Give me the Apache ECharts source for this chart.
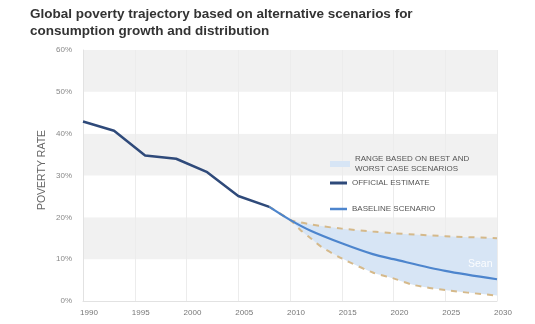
<!DOCTYPE html>
<html>
<head>
<meta charset="utf-8">
<script src="https://cdn.jsdelivr.net/npm/echarts@6/dist/echarts.min.js"></script>
<style>
html,body{margin:0;padding:0;background:#fff;}
#chart{width:535px;height:324px;}
</style>
</head>
<body>
<div id="chart"></div>
<script>
// ---- data ----
var titleLines = ['Global poverty trajectory based on alternative scenarios for', 'consumption growth and distribution'];
var yTickLabels = ['0%', '10%', '20%', '30%', '40%', '50%', '60%'];
var officialYears = [1990, 1993, 1996, 1999, 2002, 2005, 2008];
var officialValues = [42.9, 40.7, 34.8, 34.0, 30.8, 25.1, 22.5];
var baselineYears = [2008, 2010, 2012, 2015, 2018, 2020, 2025, 2030];
var baselineValues = [22.5, 19.4, 16.8, 13.8, 11.2, 10.0, 7.2, 5.2];
var rangeYears = [2008, 2010, 2011, 2012, 2013, 2015, 2018, 2020, 2022, 2025, 2030];
var upperValues = [22.5, 19.4, 18.8, 18.3, 17.9, 17.3, 16.6, 16.2, 15.9, 15.5, 15.0];
var lowerValues = [22.5, 19.4, 17.0, 15.0, 13.0, 10.2, 6.8, 5.4, 3.8, 2.6, 1.3];
var legendNames = ['RANGE BASED ON BEST AND\nWORST CASE SCENARIOS', 'OFFICIAL ESTIMATE', 'BASELINE SCENARIO'];

function pairs(xs, ys) { return xs.map(function (x, i) { return [x, ys[i]]; }); }
// value first, year second (encode below) so that stacking works on the y value
function revPairs(xs, ys) { return xs.map(function (x, i) { return [ys[i], x]; }); }
var bandValues = upperValues.map(function (u, i) { return +(u - lowerValues[i]).toFixed(2); });

var C_OFF = '#2f4a7a', C_BASE = '#4d85cd', C_RANGE = '#d7e5f5', C_DASH = '#d5b98a';
var FONT = '"Liberation Sans", Arial, sans-serif';

var chart = echarts.init(document.getElementById('chart'), null, { renderer: 'canvas' });
chart.setOption({
  animation: false,
  backgroundColor: '#fff',
  textStyle: { fontFamily: FONT },
  grid: { left: 83, right: 38, top: 50, bottom: 23, containLabel: false },
  graphic: [
    { type: 'text', left: 30, top: 6, style: { text: titleLines.join('\n'), font: 'bold 13.5px ' + FONT, fill: '#333', lineHeight: 17 } },
    { type: 'text', x: 42, y: 170, rotation: Math.PI / 2, style: { text: 'POVERTY RATE', font: '10.5px ' + FONT, fill: '#666', align: 'center', verticalAlign: 'middle' } },
    { type: 'text', x: 468, y: 264, z: 100, style: { text: 'Sean', font: '10.5px ' + FONT, fill: 'rgba(255,255,255,0.9)', verticalAlign: 'middle' } }
  ],
  legend: [
    { left: 325, top: 143, itemWidth: 20, itemHeight: 6, selectedMode: false,
      data: [{ name: legendNames[0], icon: 'rect', itemStyle: { color: C_RANGE } }],
      textStyle: { fontSize: 8, color: '#555', lineHeight: 10, padding: [12, 0, 0, 0], fontFamily: FONT } },
    { left: 325, top: 174, itemWidth: 17, itemHeight: 3, selectedMode: false,
      data: [{ name: legendNames[1], icon: 'rect', itemStyle: { color: C_OFF } }],
      textStyle: { fontSize: 8, color: '#555', fontFamily: FONT } },
    { left: 325, top: 200, itemWidth: 17, itemHeight: 2.5, selectedMode: false,
      data: [{ name: legendNames[2], icon: 'rect', itemStyle: { color: C_BASE } }],
      textStyle: { fontSize: 8, color: '#555', fontFamily: FONT } }
  ],
  xAxis: {
    type: 'value', min: 1990, max: 2030, interval: 5,
    axisLine: { show: true, lineStyle: { color: '#e2e2e2', width: 1 } },
    axisTick: { show: false },
    axisLabel: { color: '#777', fontSize: 8, margin: 8, padding: [0, 0, 0, 12], fontFamily: FONT,
      formatter: function (v) { return String(v); } },
    splitLine: { show: true, lineStyle: { color: '#ececec', width: 1 } }
  },
  yAxis: {
    type: 'value', min: 0, max: 60, interval: 10,
    axisLine: { show: true, lineStyle: { color: '#e2e2e2', width: 1 } },
    axisTick: { show: false },
    axisLabel: { color: '#888', fontSize: 8, margin: 11, fontFamily: FONT,
      formatter: function (v) { return yTickLabels[Math.round(v / 10)]; } },
    splitLine: { show: false },
    splitArea: { show: true, areaStyle: { color: ['#ffffff', '#f1f1f1'] } }
  },
  series: [
    { type: 'line', name: 'lowBase', stack: 'range', data: revPairs(rangeYears, lowerValues),
      encode: { x: 1, y: 0 }, smooth: 0.3,
      symbol: 'none', lineStyle: { opacity: 0 }, silent: true, z: 1 },
    { type: 'line', name: legendNames[0], stack: 'range', data: revPairs(rangeYears, bandValues),
      encode: { x: 1, y: 0 }, smooth: 0.3,
      symbol: 'none', lineStyle: { opacity: 0 }, itemStyle: { color: C_RANGE },
      areaStyle: { color: C_RANGE, opacity: 1 }, silent: true, z: 1 },
    { type: 'line', name: 'upper', data: pairs(rangeYears, upperValues), smooth: 0.3, symbol: 'none',
      lineStyle: { color: C_DASH, width: 2, type: [6, 6] }, z: 2 },
    { type: 'line', name: 'lower', data: pairs(rangeYears, lowerValues), smooth: 0.3, symbol: 'none',
      lineStyle: { color: C_DASH, width: 2, type: [6, 6] }, z: 2 },
    { type: 'line', name: legendNames[2], data: pairs(baselineYears, baselineValues), smooth: 0.3, symbol: 'none',
      itemStyle: { color: C_BASE }, lineStyle: { color: C_BASE, width: 2.2 }, z: 3 },
    { type: 'line', name: legendNames[1], data: pairs(officialYears, officialValues), symbol: 'none',
      itemStyle: { color: C_OFF }, lineStyle: { color: C_OFF, width: 2.5 }, z: 4 }
  ]
});
</script>
</body>
</html>
